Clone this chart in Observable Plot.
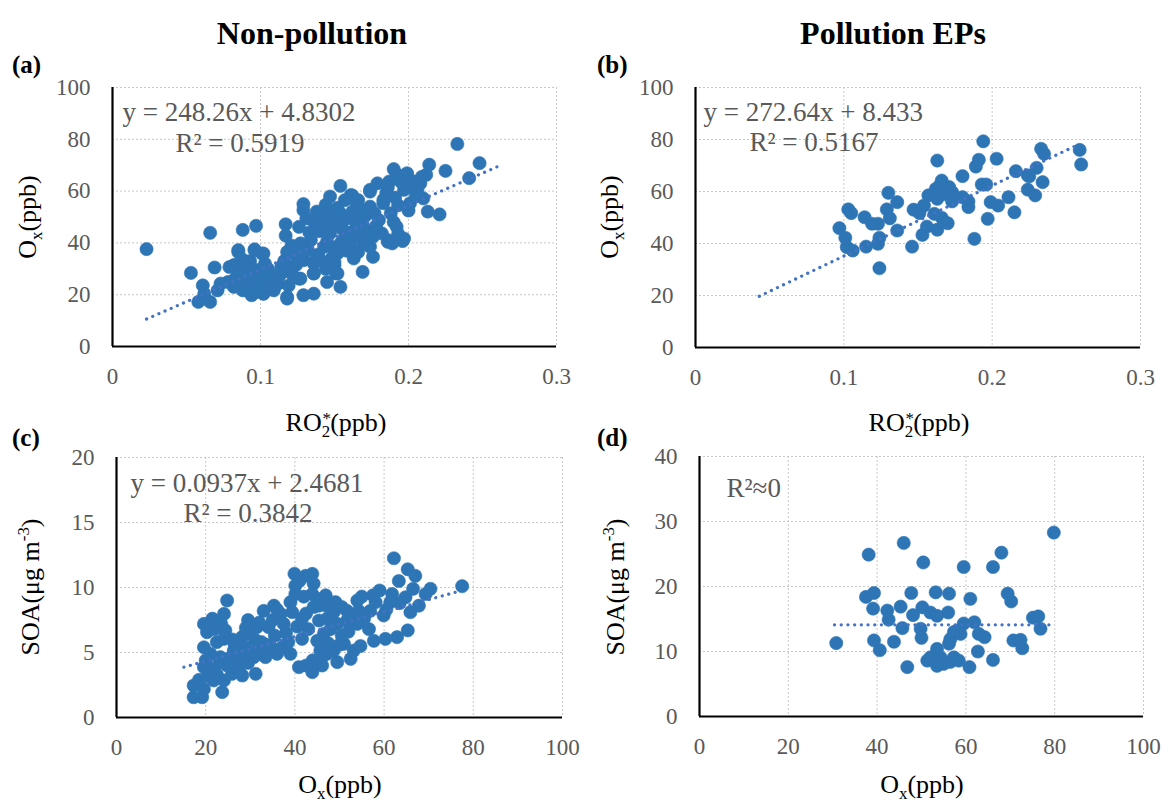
<!DOCTYPE html>
<html><head><meta charset="utf-8">
<script src="https://cdn.jsdelivr.net/npm/d3@7"></script>
<script src="https://cdn.jsdelivr.net/npm/@observablehq/plot@0.6"></script>
<style>
body{margin:0;background:#fff;}
#wrap{position:relative;width:1165px;height:803px;font-family:"Liberation Serif","Times New Roman",serif;overflow:hidden;background:#fff}
.abs{position:absolute;white-space:nowrap;line-height:1;color:#000}
.ttl{font-weight:bold;font-size:32px;transform:translate(-50%,-50%)}
.pl{font-weight:bold;font-size:25px;transform:translate(0,-50%)}
.xl{font-size:26px;transform:translate(-50%,-50%)}
.yl{font-size:26px;transform:translate(-50%,-50%) rotate(-90deg)}
.sb{font-size:0.65em;vertical-align:-0.35em}
.sp{font-size:0.65em;vertical-align:0.55em}
.st{position:relative;display:inline-block;font-size:0.65em;vertical-align:-0.35em}
.st::before{content:"*";position:absolute;left:0.05em;top:-0.75em}
.plotbox{position:absolute}
</style>
</head><body>
<div id="wrap"></div>
<script>
// ---------- data ----------
const xTicksRO2 = [0, 0.1, 0.2, 0.3];
const yTicksOx = [0, 20, 40, 60, 80, 100];
const xTicksOx = [0, 20, 40, 60, 80, 100];
const yTicksSOAc = [0, 5, 10, 15, 20];
const yTicksSOAd = [0, 10, 20, 30, 40];

// (a) Non-pollution: RO2* vs Ox
const ptsA = [[0.023,37.6],[0.053,28.4],[0.066,43.9],[0.088,45.0],[0.097,46.6],[0.069,30.5],[0.058,17.2],[0.061,23.6],[0.066,17.2],[0.233,78.2],[0.248,70.8],[0.241,65.0],[0.225,67.8],[0.214,70.2],[0.212,66.3],[0.221,51.0],[0.213,52.1],[0.154,62.0],[0.129,55.0],[0.117,47.2],[0.117,42.8],[0.169,28.8],[0.154,23.0],[0.136,20.4],[0.129,19.8],[0.118,18.5],[0.145,24.9],[0.196,40.7],[0.189,39.8],[0.186,40.4],[0.190,68.5],[0.187,63.7],[0.199,66.3],[0.201,55.3],[0.161,58.5],[0.147,57.9],[0.174,60.5],
[0.199,66.9],[0.204,63.7],[0.197,60.5],[0.206,60.5],[0.210,57.2],
[0.162,58.3],[0.174,59.8],[0.185,59.2],[0.168,52.7],[0.174,54.0],[0.183,55.3],[0.188,51.4],[0.180,48.8],[0.192,46.2],[0.197,41.7],[0.186,41.1],[0.182,43.7],[0.171,45.0],[0.174,38.5],[0.176,34.6],[0.163,34.0],[0.161,38.5],[0.154,39.8],[0.154,51.4],[0.159,49.5],[0.147,50.1],[0.138,52.1],[0.135,48.8],[0.144,54.7],[0.137,45.0],[0.147,43.7],[0.143,38.5],[0.134,41.1],[0.127,39.8],[0.126,46.2],[0.123,35.9],[0.129,33.3],[0.136,32.0],[0.150,31.4],[0.151,28.2],[0.136,28.2],[0.118,19.1],[0.126,26.2],[0.120,30.7],[0.114,29.5],[0.112,24.3],[0.109,21.7],[0.102,20.4],[0.094,19.8],[0.088,21.7],[0.082,23.0],[0.085,37.2],[0.096,37.5],[0.101,35.9],[0.082,31.4],[0.091,30.7],[0.098,29.5],[0.103,32.0],[0.093,26.2],[0.102,24.9],[0.084,26.9],[0.170,39.8],[0.176,42.4],[0.166,36.5],[0.129,52.7],[0.132,37.2],[0.179,63.0],[0.183,56.6],[0.165,54.7],[0.141,48.2],
[0.071,21.7],[0.062,20.4],[0.073,24.3],[0.079,30.7],[0.083,31.4],[0.085,36.5],[0.096,37.2],[0.102,35.9],[0.078,24.9],[0.087,24.3],[0.094,20.4],[0.102,20.4],[0.091,21.7],[0.082,25.6],[0.111,25.6],[0.114,30.7],[0.121,28.2],[0.127,26.2],[0.125,34.6],[0.136,32.7],[0.136,28.2],[0.150,32.7],[0.152,28.2],
[0.155,45.5],[0.160,44.0],[0.165,47.5],[0.150,47.0],[0.157,42.0],[0.168,41.5],[0.140,44.5],[0.145,40.5],[0.152,36.0],[0.152,53.5],[0.157,56.5],[0.143,51.0],
[0.086,28.5],[0.090,24.0],[0.095,23.0],[0.098,26.5],[0.105,27.5],[0.107,23.5],[0.088,33.5],[0.093,33.0],[0.100,22.0],[0.097,21.0],[0.105,30.0],[0.110,27.0],
[0.116,33.0],[0.118,36.5],[0.121,39.0],[0.124,31.5],[0.128,37.0],[0.113,27.5],[0.119,23.5],
[0.139,35.5],[0.142,46.5],[0.146,52.5],[0.149,38.0],[0.155,48.0],[0.158,37.0],[0.162,52.0],[0.164,45.0],[0.166,56.5],[0.168,49.0],[0.171,50.5],[0.173,43.0],[0.178,46.5],[0.177,51.5],[0.160,41.0],[0.133,44.0],[0.131,49.5],[0.148,34.0],[0.144,30.0],[0.140,33.5],
[0.191,57.5],[0.195,63.5],[0.202,62.0],[0.208,63.0],[0.193,54.5],[0.186,61.5],[0.205,58.5],[0.200,52.5],[0.192,66.5],[0.209,65.5],[0.193,43.5],[0.190,48.0]];
const trendA = [[0.023,10.6],[0.262,69.9]];

// (b) Pollution EPs: RO2* vs Ox
const ptsB = [[0.194,79.3],[0.163,71.9],[0.203,72.6],[0.191,72.2],[0.189,69.6],[0.233,76.4],[0.235,74.5],[0.259,76.0],[0.260,70.4],[0.216,67.8],[0.230,69.1],[0.224,66.2],[0.234,63.6],[0.224,60.7],[0.229,58.5],[0.180,65.9],[0.193,62.7],[0.196,62.7],[0.211,57.8],[0.215,52.0],[0.197,49.5],[0.199,55.9],[0.204,54.6],[0.188,41.8],[0.184,56.2],[0.184,54.0],[0.180,57.8],[0.173,59.7],[0.173,56.2],[0.166,64.2],[0.171,61.7],[0.162,61.0],[0.157,58.5],[0.163,57.2],[0.161,51.4],[0.154,54.6],[0.147,53.0],[0.151,51.7],[0.166,49.9],[0.170,47.8],[0.156,46.5],[0.153,43.3],[0.163,45.3],[0.146,38.8],[0.136,55.9],[0.130,59.5],[0.129,53.1],[0.131,49.7],[0.136,45.0],[0.124,42.2],[0.123,39.9],[0.124,30.5],[0.114,50.1],[0.119,47.6],[0.123,47.6],[0.115,38.8],[0.103,53.1],[0.105,51.7],[0.097,45.9],[0.101,42.2],[0.102,38.6],[0.106,37.3],[0.225,65.8],[0.165,62.5],[0.168,59.0]];
const trendB = [[0.043,19.7],[0.259,78.3]];

// (c) Non-pollution: Ox vs SOA
const ptsC = [[62.2,12.25],[65.3,11.4],[67.0,10.9],[77.5,10.1],[63.3,10.5],[59.0,9.77],[61.8,9.5],[70.4,9.9],[69.3,9.5],[64.8,9.25],[61.4,8.87],[67.8,8.6],[65.9,8.1],[58.1,8.87],[59.9,7.85],[56.9,8.2],[56.6,6.8],[54.0,9.0],[54.3,8.2],[51.7,8.2],[51.7,7.46],[54.0,7.2],[49.1,8.87],[46.9,9.4],[48.7,8.1],[49.5,7.2],[45.4,7.46],[44.2,8.5],[45.4,8.6],[43.9,9.5],[43.9,11.05],[44.2,10.3],[39.9,11.05],[42.4,10.9],[40.1,10.15],[40.1,9.5],[39.0,8.87],[39.4,8.1],[41.6,7.6],[41.6,6.05],[36.8,7.97],[35.3,8.6],[33.0,8.2],[34.1,6.95],[31.5,6.95],[30.0,6.7],[28.2,6.2],[28.9,5.4],[31.5,5.15],[34.5,5.5],[37.1,5.4],[39.0,4.9],[36.0,4.9],[33.4,4.64],[30.8,4.64],[28.5,4.77],[31.2,3.36],[28.2,3.23],[25.9,3.36],[24.1,6.05],[24.4,6.7],[24.8,9.0],[24.1,7.97],[21.5,7.6],[19.6,7.2],[20.3,6.56],[19.6,5.4],[21.1,4.9],[23.3,4.64],[19.6,3.87],[21.5,3.74],[24.8,4.0],[21.8,2.85],[24.1,2.85],[23.7,1.95],[17.3,2.46],[19.6,2.2],[17.3,1.56],[19.2,1.56],[26.3,5.15],[40.9,3.87],[43.9,3.49],[46.1,4.0],[47.2,4.9],[49.5,4.26],[52.5,4.51],[53.2,5.15],[51.0,5.67],[48.7,5.15],[45.7,5.15],[45.0,5.9],[46.5,6.44],[54.7,5.5],[57.7,5.9],[60.3,6.05],[62.9,6.18],[65.3,6.7],[45.0,9.13],[47.2,7.6],
[22.5,5.8],[26.0,6.0],[27.0,4.2],[29.5,7.5],[32.5,5.8],[35.0,7.5],[38.0,6.5],[43.0,6.8],[50.5,6.3],
[18.5,2.9],[20.5,3.2],[22.5,3.3],[23.0,4.2],[25.5,4.6],[26.5,5.6],[22.0,6.8],[20.0,4.4],[27.5,3.6],[29.5,4.2],[23.5,7.2],
[32.0,7.3],[33.5,5.6],[35.5,6.3],[37.5,7.2],[38.5,5.8],[40.5,7.0],[42.5,8.0],[36.0,8.3],[31.0,6.0],[29.0,6.9],[42.0,9.3],[41.0,10.5],
[47.5,5.7],[48.0,6.8],[50.0,5.6],[52.0,6.6],[53.0,7.8],[55.5,7.6],[50.5,8.5],[47.0,8.6],[44.0,4.4],[42.5,4.0],[46.0,4.6],[55.0,9.3],[57.5,9.4],
[63.5,8.8],[66.5,9.9],[60.5,8.3]];
const trendC = [[15.1,3.87],[76.7,9.7]];

// (d) Pollution EPs: Ox vs SOA
const ptsD = [[30.8,11.3],[38.1,24.9],[46.0,26.7],[50.4,23.7],[59.5,23.0],[66.1,23.0],[68.0,25.2],[79.8,28.3],[37.5,18.4],[39.3,19.0],[39.1,16.6],[42.3,16.3],[42.6,14.9],[45.3,16.9],[45.7,13.6],[47.7,19.0],[48.1,15.6],[50.2,16.8],[52.0,16.0],[53.5,15.5],[53.2,19.1],[56.2,18.9],[56.0,16.0],[49.8,13.5],[50.0,12.1],[39.3,11.7],[40.6,10.2],[43.8,11.5],[46.8,7.6],[51.3,8.6],[53.5,10.4],[53.5,7.8],[56.5,8.4],[58.4,8.6],[56.2,11.2],[57.3,13.0],[58.8,12.7],[59.5,14.3],[61.9,14.5],[61.0,18.1],[62.9,12.7],[64.2,12.2],[62.7,10.0],[60.8,7.6],[66.1,8.7],[69.4,18.9],[70.2,17.7],[70.7,11.7],[72.3,11.8],[72.7,10.5],[75.1,15.2],[76.3,15.4],[76.8,13.5],[52.0,9.1],[54.3,9.1],[57.3,9.1],[55.0,8.1],[56.5,11.9],[58.0,13.2]];
const trendD = [[30.4,14.1],[80.0,14.1]];

// ---------- drawing ----------
const FONT = '"Liberation Serif","Times New Roman",serif';
const wrap = document.getElementById("wrap");

function panel(o){
  const ml=72, mr=14, mt=14, mb=50;
  const chart = Plot.plot({
    width: o.fw+ml+mr, height: o.fh+mt+mb,
    marginLeft: ml, marginRight: mr, marginTop: mt, marginBottom: mb,
    style:{background:"transparent", fontFamily:FONT, overflow:"visible"},
    x:{domain:o.xd},
    y:{domain:o.yd},
    marks:[
      Plot.gridX(o.xt.filter(t=>t>o.xd[0]), {stroke:"#c8c8c8", strokeOpacity:1, strokeWidth:1, strokeDasharray:"2,2"}),
      Plot.gridY(o.yt.filter(t=>t>o.yd[0]), {stroke:"#c8c8c8", strokeOpacity:1, strokeWidth:1, strokeDasharray:"2,2"}),
      Plot.dot(o.pts, {x:d=>d[0], y:d=>d[1], r:6.6, fill:"#2E75B6", stroke:"#2E75B6", strokeWidth:0.6}),
      Plot.line(o.trend, {x:d=>d[0], y:d=>d[1], stroke:"#4472C4", strokeWidth:3.2, strokeDasharray:"0.1,6.6", strokeLinecap:"round"}),
      Plot.ruleX([o.xd[0]], {stroke:"#000", strokeWidth:2.2}),
      Plot.ruleY([o.yd[0]], {stroke:"#000", strokeWidth:2.2}),
      Plot.axisX(o.xt, {tickSize:0, tickPadding:21, fontSize:23, fontFamily:FONT, color:"#595959", label:null, tickFormat:d=>String(d)}),
      Plot.axisY(o.yt, {tickSize:0, tickPadding:22, fontSize:23, fontFamily:FONT, color:"#595959", label:null, tickFormat:d=>String(d)}),
      ...o.texts.map(t=>Plot.text([t.s], {frameAnchor:"top-left", dx:t.dx, dy:t.dy, text:d=>d, textAnchor:"start", lineAnchor:"middle", fontSize:27, fontFamily:FONT, fill:"#595959"}))
    ]
  });
  const box = document.createElement("div");
  box.className = "plotbox";
  box.style.left = (o.fx-ml)+"px";
  box.style.top = (o.fy-mt)+"px";
  box.appendChild(chart);
  wrap.appendChild(box);
}

panel({fx:112, fy:87, fw:444, fh:259, xd:[0,0.3], yd:[0,100], xt:xTicksRO2, yt:yTicksOx, pts:ptsA, trend:trendA,
  texts:[{s:"y = 248.26x + 4.8302", dx:10, dy:25},{s:"R² = 0.5919", dx:63, dy:56}]});
panel({fx:695, fy:87, fw:445, fh:260, xd:[0,0.3], yd:[0,100], xt:xTicksRO2, yt:yTicksOx, pts:ptsB, trend:trendB,
  texts:[{s:"y = 272.64x + 8.433", dx:8, dy:25},{s:"R² = 0.5167", dx:54, dy:55}]});
panel({fx:116, fy:457, fw:446, fh:260, xd:[0,100], yd:[0,20], xt:xTicksOx, yt:yTicksSOAc, pts:ptsC, trend:trendC,
  texts:[{s:"y = 0.0937x + 2.4681", dx:14, dy:26},{s:"R² = 0.3842", dx:67, dy:56}]});
panel({fx:699, fy:456, fw:444, fh:260, xd:[0,100], yd:[0,40], xt:xTicksOx, yt:yTicksSOAd, pts:ptsD, trend:trendD,
  texts:[{s:"R²≈0", dx:27, dy:32}]});

// ---------- text overlays ----------
const ox = 'O<span class="sb">x</span>(ppb)';
const ro2 = 'RO<span class="st">2</span>(ppb)';
const soa = 'SOA(μg m<span class="sp">-3</span>)';
const labels = [
  {c:"ttl", x:312, y:33, h:"Non-pollution"},
  {c:"ttl", x:893, y:33, h:"Pollution EPs"},
  {c:"pl", x:12, y:64, h:"(a)"},
  {c:"pl", x:597, y:64, h:"(b)"},
  {c:"pl", x:12, y:437, h:"(c)"},
  {c:"pl", x:597, y:437, h:"(d)"},
  {c:"yl", x:30, y:217, h:ox},
  {c:"yl", x:612, y:217, h:ox},
  {c:"xl", x:336, y:425, h:ro2},
  {c:"xl", x:919, y:425, h:ro2},
  {c:"yl", x:30, y:587, h:soa},
  {c:"yl", x:615, y:587, h:soa},
  {c:"xl", x:340, y:787, h:ox},
  {c:"xl", x:922, y:787, h:ox}
];
labels.forEach(l=>{
  const d = document.createElement("div");
  d.className = "abs "+l.c;
  d.style.left = l.x+"px";
  d.style.top = l.y+"px";
  d.innerHTML = l.h;
  wrap.appendChild(d);
});
</script>
</body></html>
